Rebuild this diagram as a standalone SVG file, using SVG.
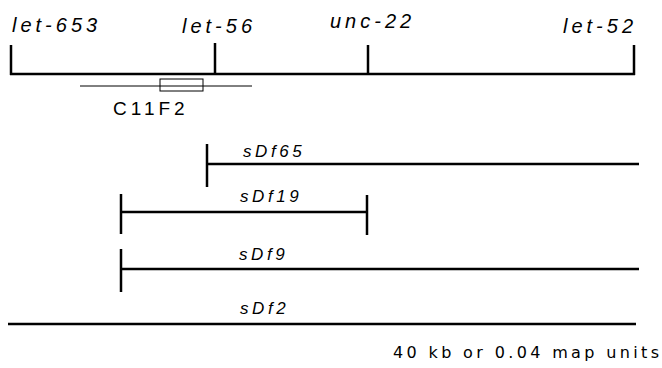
<svg xmlns="http://www.w3.org/2000/svg" width="662" height="368" viewBox="0 0 662 368">
<style>
.bg{fill:#fff}
.thick{stroke:#000;stroke-width:2.5;fill:none;stroke-linecap:butt}
.thin{stroke:#000;stroke-width:1;fill:none}
.gene{font-family:"Liberation Sans",Arial,sans-serif;font-style:italic;font-size:20px;letter-spacing:4px;fill:#000}
.df{font-family:"Liberation Sans",Arial,sans-serif;font-style:italic;font-size:17px;letter-spacing:3.6px;fill:#000}
.plain{font-family:"Liberation Sans",Arial,sans-serif;font-size:19px;letter-spacing:4px;fill:#000}
.scale{font-family:"DejaVu Sans",sans-serif;font-size:16px;fill:#000}
</style>
<rect class="bg" x="0" y="0" width="662" height="368"/>
<g id="map">
  <line class="thick" x1="10" y1="74" x2="635" y2="74"/>
  <line class="thick" x1="11" y1="45" x2="11" y2="75"/>
  <line class="thick" x1="215" y1="43" x2="215" y2="75"/>
  <line class="thick" x1="368" y1="45" x2="368" y2="75"/>
  <line class="thick" x1="634" y1="45" x2="634" y2="75"/>
</g>
<g id="let-653"><text class="gene" x="12" y="32">let-653</text></g>
<g id="let-56"><text class="gene" x="182" y="33">let-56</text></g>
<g id="unc-22"><text class="gene" x="330" y="28">unc-22</text></g>
<g id="let-52"><text class="gene" x="563" y="33">let-52</text></g>
<g id="C11F2">
  <line class="thin" x1="80" y1="86" x2="252" y2="86"/>
  <rect class="thin" x="160" y="79" width="43" height="12"/>
  <text class="plain" x="113" y="115">C11F2</text>
</g>
<g id="connectors">
  <g id="sDf65">
    <line class="thick" x1="207" y1="144" x2="207" y2="187"/>
    <line class="thick" x1="207" y1="164" x2="639" y2="164"/>
    <text class="df" x="243" y="157">sDf65</text>
  </g>
  <g id="sDf19">
    <line class="thick" x1="121" y1="194" x2="121" y2="234"/>
    <line class="thick" x1="367" y1="195" x2="367" y2="235"/>
    <line class="thick" x1="121" y1="212" x2="367" y2="212"/>
    <text class="df" x="240" y="202">sDf19</text>
  </g>
  <g id="sDf9">
    <line class="thick" x1="121" y1="249" x2="121" y2="292"/>
    <line class="thick" x1="121" y1="269" x2="639" y2="269"/>
    <text class="df" x="239" y="260">sDf9</text>
  </g>
  <g id="sDf2">
    <line class="thick" x1="8" y1="324" x2="636" y2="324"/>
    <text class="df" x="240" y="314">sDf2</text>
  </g>
</g>
<g id="scale"><text class="scale" x="393" y="358" textLength="266" lengthAdjust="spacing">40 kb or 0.04 map units</text></g>
</svg>
